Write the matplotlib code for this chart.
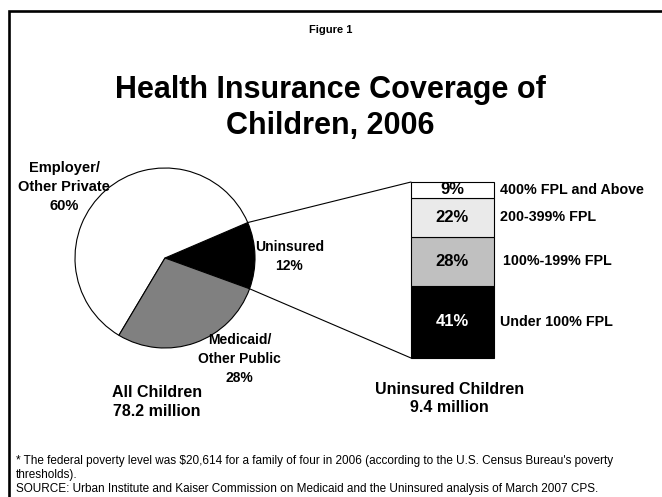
import matplotlib.pyplot as plt
from matplotlib.patches import ConnectionPatch, Rectangle
import numpy as np

plt.rcParams['font.family'] = ['Liberation Sans', 'DejaVu Sans']

W, H = 662, 497

# pie: all children
pie_names = ['Uninsured', 'Employer/\nOther Private', 'Medicaid/\nOther Public']
pie_values = [12, 60, 28]
pie_colors = ['black', 'white', '#808080']

# stacked bar: uninsured children by income
fpl_groups = ['Under 100% FPL', '100%-199% FPL', '200-399% FPL', '400% FPL and Above']
fpl_values = [41, 28, 22, 9]
fpl_colors = ['black', '#c0c0c0', '#eaeaea', 'white']
fpl_textcol = ['white', 'black', 'black', 'black']

notes = ["* The federal poverty level was $20,614 for a family of four in 2006 (according to the U.S. Census Bureau's poverty",
         "thresholds).",
         "SOURCE: Urban Institute and Kaiser Commission on Medicaid and the Uninsured analysis of March 2007 CPS."]


def px_box(left, top, right, bottom):
    return [left / W, 1 - bottom / H, (right - left) / W, (bottom - top) / H]


def fx(x):
    return x / W


def fy(y):
    return 1 - y / H


fig = plt.figure(figsize=(W / 100, H / 100), dpi=100)

# frame (open at right and bottom)
fig.add_artist(Rectangle((fx(9), -0.1), 1.2, fy(11) + 0.1, transform=fig.transFigure,
                         fill=False, edgecolor='black', linewidth=1.9))

fig.text(fx(331), fy(30), 'Figure 1', ha='center', va='center', fontsize=8, fontweight='bold')
fig.text(fx(330), fy(108), 'Health Insurance Coverage of\nChildren, 2006', ha='center', va='center',
         fontsize=22, fontweight='bold', linespacing=1.28)

# pie
cx, cy, r = 165, 258, 90
pad = 1.03
ax_pie = fig.add_axes(px_box(cx - r * pad, cy - r * pad, cx + r * pad, cy + r * pad))
wedges, _ = ax_pie.pie(pie_values, colors=pie_colors, startangle=-20, counterclock=True,
                       wedgeprops=dict(edgecolor='black', linewidth=0.8))
ax_pie.set_xlim(-pad, pad)
ax_pie.set_ylim(-pad, pad)
ax_pie.axis('off')

pie_lab_pos = [(1.38, 0.02), (-1.12, 0.79), (0.83, -1.12)]
pie_lab_size = [10, 10.5, 10]
for name, v, (lx, ly), fs in zip(pie_names, pie_values, pie_lab_pos, pie_lab_size):
    ax_pie.text(lx, ly, f'{name}\n{v}%', ha='center', va='center', fontsize=fs,
                fontweight='bold', linespacing=1.45)
ax_pie.text(-0.09, -1.6, 'All Children\n78.2 million', ha='center', va='center',
            fontsize=11.5, fontweight='bold', linespacing=1.3)

# stacked bar
ax_bar = fig.add_axes(px_box(411, 182, 494, 358))
bottom = 0
for g, v, c, tc in zip(fpl_groups, fpl_values, fpl_colors, fpl_textcol):
    ax_bar.bar(0, v, bottom=bottom, width=1, color=c, edgecolor='black', linewidth=0.8, clip_on=False)
    mid = bottom + v / 2
    ax_bar.text(0, mid, f'{v}%', ha='center', va='center', color=tc, fontsize=12, fontweight='bold')
    xoff = 0.61 if g.startswith('100%') else 0.57
    ax_bar.text(xoff, mid, g, ha='left', va='center', fontsize=10.3, fontweight='bold')
    bottom += v
ax_bar.set_xlim(-0.5, 0.5)
ax_bar.set_ylim(0, 100)
ax_bar.axis('off')
ax_bar.text(-0.04, -23, 'Uninsured Children\n9.4 million', ha='center', va='center',
            fontsize=11.5, fontweight='bold', linespacing=1.3)

# connector lines from the uninsured wedge to the bar
w = wedges[0]
for ang, yb in [(w.theta2, 100), (w.theta1, 0)]:
    t = np.deg2rad(ang)
    con = ConnectionPatch(xyA=(np.cos(t), np.sin(t)), coordsA=ax_pie.transData,
                          xyB=(-0.5, yb), coordsB=ax_bar.transData, color='black', linewidth=0.8)
    fig.add_artist(con)

for i, line in enumerate(notes):
    fig.text(fx(16), fy(461 + i * 14), line, ha='left', va='center', fontsize=8.5)

fig.savefig('out.png', dpi=100)
